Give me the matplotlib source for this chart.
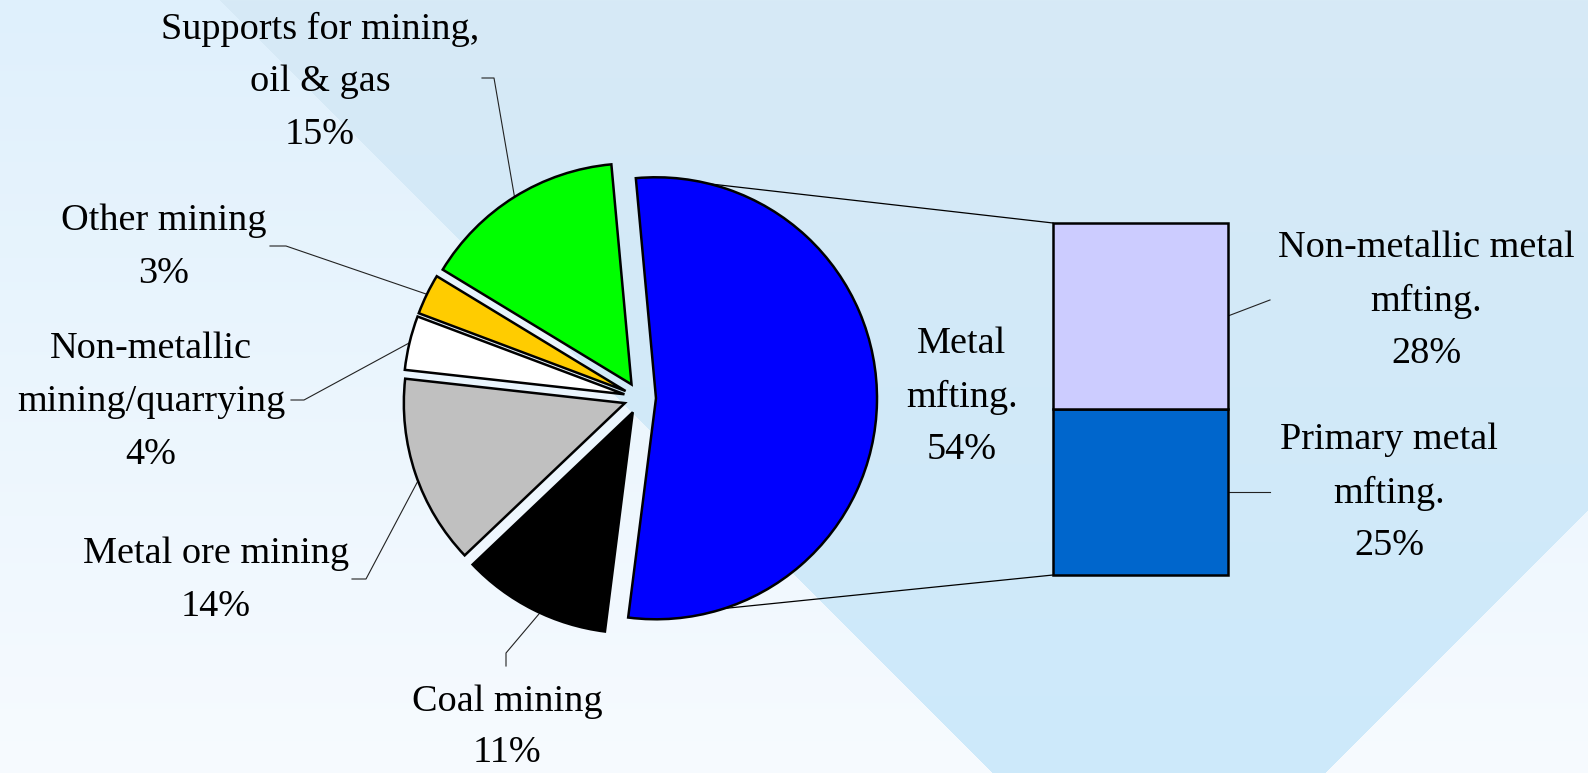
import numpy as np
import matplotlib
matplotlib.use("Agg")
import matplotlib.pyplot as plt

W, H = 1588, 773

# pie data (percent of total)
pie_labels = ["Metal\nmfting.", "Supports for mining,\noil & gas", "Other mining",
              "Non-metallic\nmining/quarrying", "Metal ore mining", "Coal mining"]
pie_values = [54, 15, 3, 4, 14, 11]
pie_colors = ["#0000FF", "#00FF00", "#FFCC00", "#FFFFFF", "#C0C0C0", "#000000"]

# secondary bar (split of the metal manufacturing slice)
bar_labels = ["Primary metal\nmfting.", "Non-metallic metal\nmfting."]
bar_values = [25, 28]
bar_colors = ["#0066CC", "#CCCCFF"]

plt.rcParams["font.family"] = ["Liberation Serif", "DejaVu Serif"]
FS = 27.5


def fy(y):
    # picture y (down) -> axes y (up)
    return H - y


fig = plt.figure(figsize=(W / 100, H / 100), dpi=100)
ax = fig.add_axes([0, 0, 1, 1])

# background: soft gradient plus a darker diagonal band
yy, xx = np.mgrid[0:H, 0:W].astype(float)
t = yy / H
bg = np.zeros((H, W, 3))
top = np.array([223, 240, 252]) / 255
bot = np.array([247, 251, 255]) / 255
for k in range(3):
    bg[..., k] = top[k] + (bot[k] - top[k]) * t
band = (xx > 219 + yy) & (xx + yy < 2098)
btop = np.array([215, 234, 246]) / 255
bbot = np.array([205, 233, 251]) / 255
for k in range(3):
    bg[..., k] = np.where(band, btop[k] + (bbot[k] - btop[k]) * t, bg[..., k])
ax.imshow(bg, extent=[0, W, 0, H], origin="upper", zorder=0, aspect="auto")

# pie, metal slice centred just below the horizontal
R = 221
cx, cy = 640, fy(398)
total = sum(pie_values)
start = -1 - pie_values[0] / total * 180
wedges, _ = ax.pie(pie_values, colors=pie_colors, startangle=start, counterclock=True,
                   radius=R, center=(cx, cy), explode=[16] * len(pie_values),
                   wedgeprops=dict(linewidth=1.8, edgecolor="black", joinstyle="miter"))
for w in wedges:
    w.set_zorder(3)


def arc_point(w, ang):
    a = np.deg2rad(ang)
    return w.center[0] + w.r * np.cos(a), w.center[1] + w.r * np.sin(a)


# secondary stacked bar
bx0, bx1 = 1053, 1228
by0, by1 = fy(575), fy(223)
unit = (by1 - by0) / sum(bar_values)
bottom = by0
bar_mids = []
for v, c in zip(bar_values, bar_colors):
    ax.bar((bx0 + bx1) / 2, v * unit, width=bx1 - bx0, bottom=bottom, color=c,
           edgecolor="black", linewidth=1.8, zorder=3)
    bar_mids.append(bottom + v * unit / 2)
    bottom += v * unit

# connector lines from the metal slice to the bar
p_top = arc_point(wedges[0], 76)
p_bot = arc_point(wedges[0], -72)
ax.plot([p_top[0], bx0], [p_top[1], by1], color="black", lw=0.9, zorder=2)
ax.plot([p_bot[0], bx0], [p_bot[1], by0], color="black", lw=0.9, zorder=2)


def mid_angle(w):
    return (w.theta1 + w.theta2) / 2


# leader lines: (elbow, end) in picture coordinates
leaders = {
    1: [(494, 78), (482, 78)],
    2: [(286, 246), (270, 246)],
    3: [(304, 400), (291, 400)],
    4: [(366, 579), (352, 579)],
    5: [(506, 653), (506, 666)],
}
for i, pts in leaders.items():
    p0 = arc_point(wedges[i], mid_angle(wedges[i]) + (2 if i in (4, 5) else 0))
    xs = [p0[0]] + [p[0] for p in pts]
    ys = [p0[1]] + [fy(p[1]) for p in pts]
    ax.plot(xs, ys, color="#222222", lw=0.8, zorder=2)

# bar leaders
ax.plot([bx1, 1270], [bar_mids[1], bar_mids[1] + 16], color="#222222", lw=0.8, zorder=2)
ax.plot([bx1, 1270], [bar_mids[0], bar_mids[0]], color="#222222", lw=0.8, zorder=2)

# labels: (centre x, first line y) in picture coordinates
pie_pos = [(962, 344), (320, 29), (164, 221), (151, 349), (216, 554), (507, 702)]
bar_pos = [(1389, 440), (1426, 248)]
STEP = 53


def put_label(text, pct, x, y0, step=STEP):
    lines = text.split("\n") + ["%d%%" % pct]
    for j, s in enumerate(lines):
        ax.text(x, fy(y0 + j * step), s, ha="center", va="center", fontsize=FS,
                color="black", zorder=4)


for lab, v, (x, y) in zip(pie_labels, pie_values, pie_pos):
    put_label(lab, v, x, y, 51 if lab == "Coal mining" else STEP)
for lab, v, (x, y) in zip(bar_labels, bar_values, bar_pos):
    put_label(lab, v, x, y)

ax.set_xlim(0, W)
ax.set_ylim(0, H)
ax.set_aspect("equal")
ax.axis("off")
fig.savefig("out.png", dpi=100)
